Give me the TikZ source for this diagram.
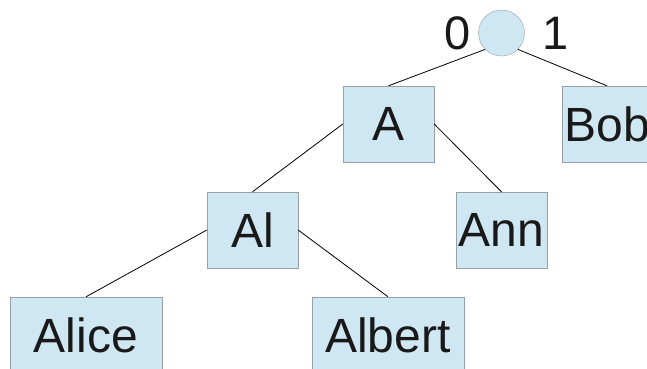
\documentclass[tikz,border=0pt]{standalone}
\usepackage{fontspec}
\setmainfont{Liberation Sans}
\usepackage{tikz}
\usetikzlibrary{calc}
\definecolor{boxfill}{RGB}{207,230,243}
\definecolor{boxline}{RGB}{150,160,165}
\tikzset{inv/.style={opacity=0}}
\tikzset{knot/.style={circle,fill=boxfill,draw=boxline,minimum size=46pt,inner sep=0pt}}
\tikzset{key/.style={rectangle,fill=boxfill,draw=boxline,minimum height=76pt,inner sep=0pt,text=black!90,font=\fontsize{48}{57}\selectfont}}
\tikzset{bit/.style={inner sep=0pt,text=black!90,font=\fontsize{47}{56}\selectfont}}

\begin{document}
\begin{tikzpicture}[x=1pt,y=-1pt]
\useasboundingbox (0,0) rectangle (647,368);

 \node[knot] (R) at (501.5, 33) {};
 \node[bit] (B0) at (457.5, 33) {0};
 \node[bit] (B1) at (556, 33) {1};

 \node[key, minimum width=91pt] (A) at (388.5, 124) {A};
 \node[key, minimum width=90pt] (Bob) at (607, 124) {Bob};
 \node[key, minimum width=91pt] (Al) at (252.5, 230) {Al};
 \node[key, minimum width=91pt] (Ann) at (501.5, 230) {Ann};
 \node[key, minimum width=152pt] (Alice) at (86, 335) {Alice};
 \node[key, minimum width=152pt] (Albert) at (388, 335) {Albert};

 \draw[line width=0.8pt] (R.south west) -- (A.north);
 \draw[line width=0.8pt] (R.south east) -- (Bob.north);
 \draw[line width=0.8pt] (A.west) -- (Al.north);
 \draw[line width=0.8pt] (A.east) -- (Ann.north);
 \draw[line width=0.8pt] (Al.west) -- (Alice.north);
 \draw[line width=0.8pt] (Al.east) -- (Albert.north);

\end{tikzpicture}
\end{document}
